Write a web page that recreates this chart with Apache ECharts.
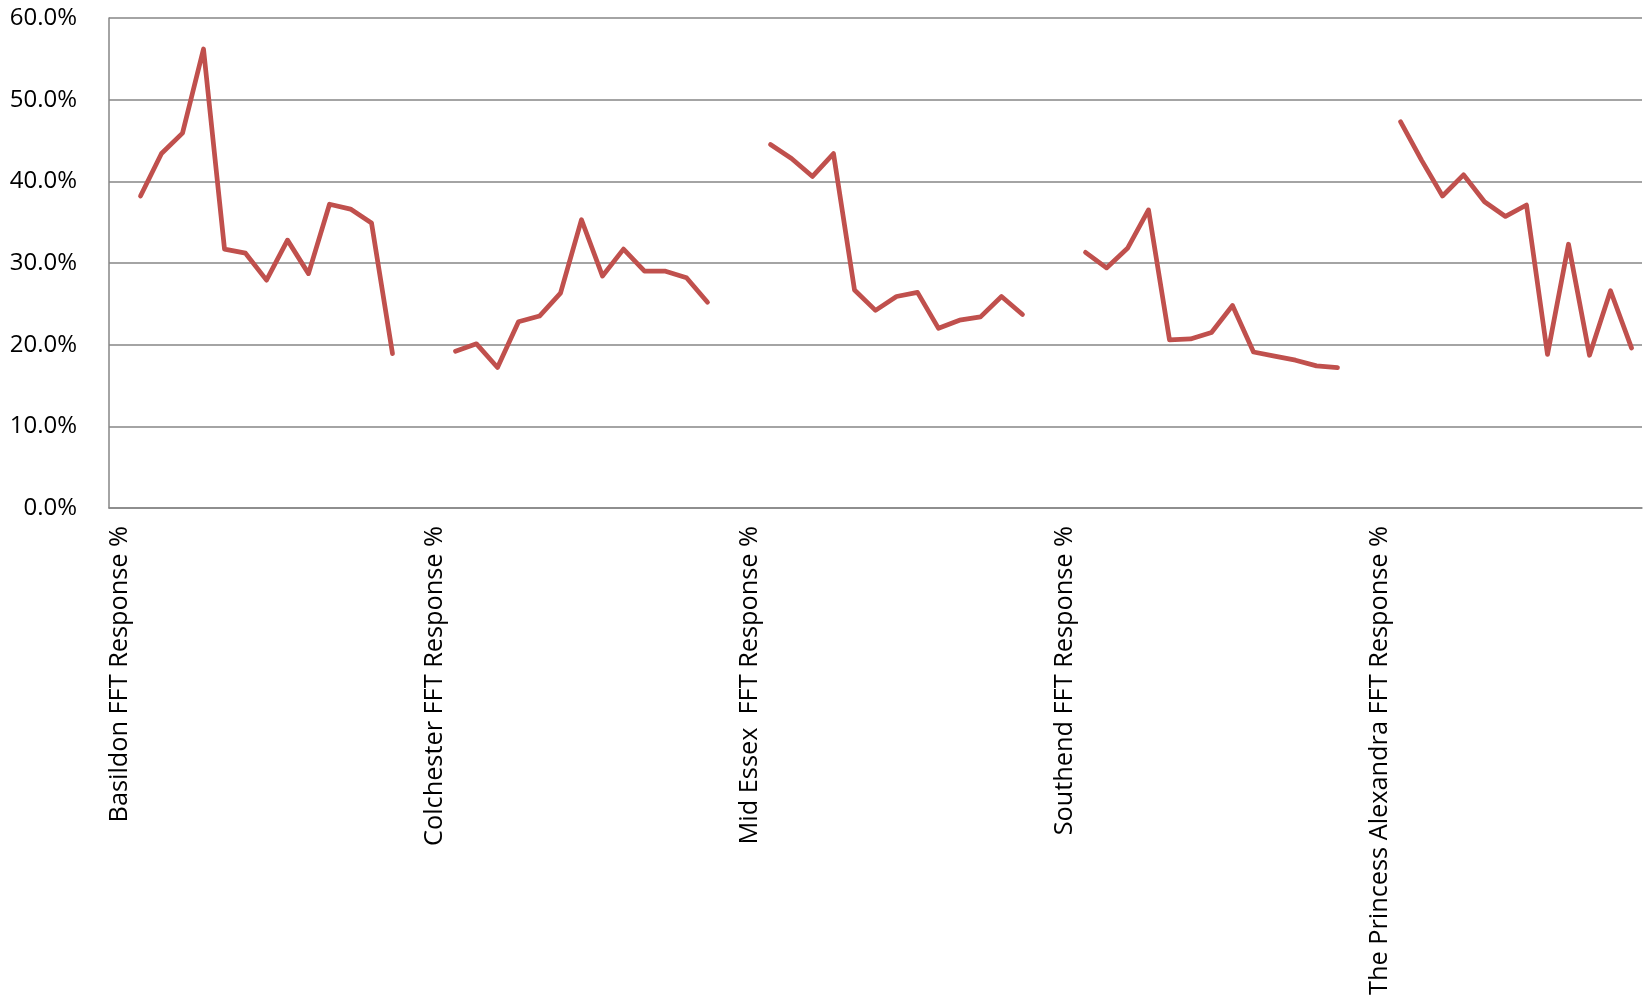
<!DOCTYPE html>
<html>
<head>
<meta charset="utf-8">
<script src="https://cdn.jsdelivr.net/npm/echarts@6/dist/echarts.min.js"></script>
<style>
html,body{margin:0;padding:0;background:#fff;}
#chart{width:1650px;height:1001px;}
</style>
</head>
<body>
<div id="chart"></div>
<script>
const groupNames = [
  "Basildon FFT Response %",
  "Colchester FFT Response %",
  "Mid Essex  FFT Response %",
  "Southend FFT Response %",
  "The Princess Alexandra FFT Response %"
];
const basildon = [38.2, 43.4, 45.9, 56.2, 31.7, 31.2, 27.9, 32.8, 28.7, 37.2, 36.6, 34.9, 18.9];
const colchester = [19.2, 20.1, 17.2, 22.8, 23.5, 26.3, 35.3, 28.4, 31.7, 29.0, 29.0, 28.2, 25.2];
const midEssex = [44.5, 42.8, 40.6, 43.4, 26.7, 24.2, 25.9, 26.4, 22.0, 23.0, 23.4, 25.9, 23.7];
const southend = [31.3, 29.4, 31.8, 36.5, 20.6, 20.7, 21.5, 24.8, 19.1, 18.6, 18.1, 17.4, 17.2];
const princessAlexandra = [47.3, 42.6, 38.2, 40.8, 37.5, 35.7, 37.1, 18.8, 32.3, 18.7, 26.6, 19.6];
const yTicks = [0, 10, 20, 30, 40, 50, 60];

const groups = [basildon, colchester, midEssex, southend, princessAlexandra];
const categories = [];
const values = [];
groups.forEach((g, gi) => {
  categories.push(groupNames[gi]);
  values.push(null);
  g.forEach(v => { categories.push(''); values.push(v); });
  if (gi < groups.length - 1) {
    categories.push('');
    values.push(null);
  }
});

const chart = echarts.init(document.getElementById('chart'), null, {renderer: 'canvas'});
const font = '"Open Sans", "Liberation Sans", sans-serif';
chart.setOption({
  animation: false,
  backgroundColor: '#ffffff',
  grid: {left: 109, right: 8, top: 18, bottom: 493, containLabel: false},
  xAxis: {
    type: 'category',
    data: categories,
    boundaryGap: true,
    axisLine: {show: true, lineStyle: {color: '#868686', width: 1.5}},
    axisTick: {show: false},
    axisLabel: {
      interval: 0,
      rotate: 90,
      margin: 18,
      color: '#000',
      fontFamily: font,
      fontSize: 25.3
    },
    splitLine: {show: false}
  },
  yAxis: {
    type: 'value',
    min: yTicks[0],
    max: yTicks[yTicks.length - 1],
    interval: 10,
    axisLine: {show: true, lineStyle: {color: '#868686', width: 1.5}},
    axisTick: {show: false},
    axisLabel: {
      margin: 32,
      color: '#000',
      fontFamily: font,
      fontSize: 24,
      formatter: v => v.toFixed(1) + '%'
    },
    splitLine: {show: true, lineStyle: {color: '#868686', width: 1.5}}
  },
  series: [{
    type: 'line',
    data: values,
    connectNulls: false,
    showSymbol: false,
    symbol: 'none',
    lineStyle: {color: '#C0504D', width: 4.75, cap: 'round', join: 'round'},
    itemStyle: {color: '#C0504D'}
  }]
});
</script>
</body>
</html>
